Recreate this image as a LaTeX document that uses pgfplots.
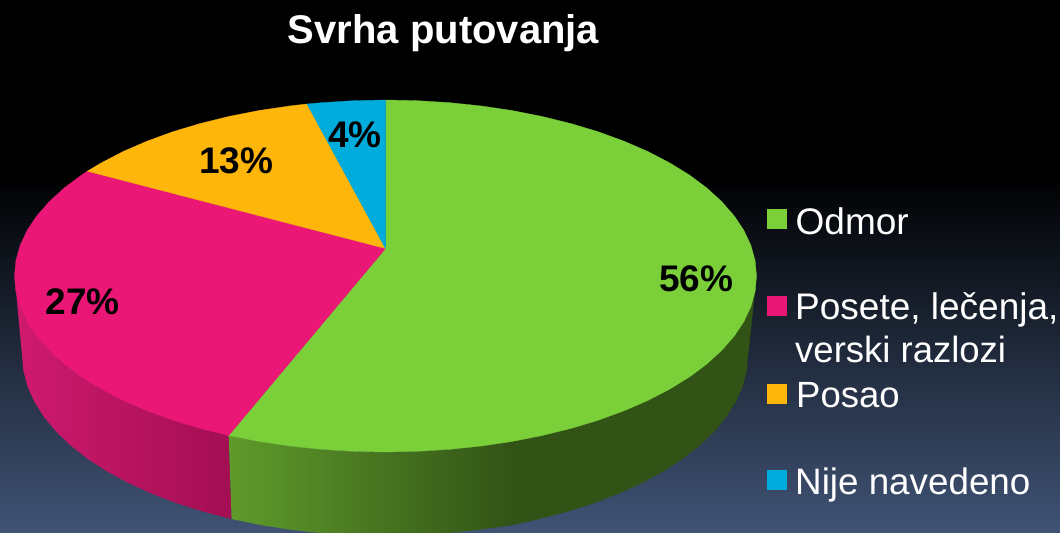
\documentclass[border=0pt]{standalone}
\usepackage{fontspec}
\setmainfont{Liberation Sans}
\usepackage{pgfplots}
\pgfplotsset{compat=1.18}
\definecolor{odmor}{HTML}{7BD03A}
\definecolor{posete}{HTML}{EA1777}
\definecolor{posao}{HTML}{FEB60A}
\definecolor{nije}{HTML}{00ACDC}
\definecolor{bgbottom}{HTML}{405375}
\definecolor{bgtop}{HTML}{020305}
\definecolor{sidegreenL}{HTML}{5F9B2B}
\definecolor{sidegreenR}{HTML}{325316}
\definecolor{sidepinkL}{HTML}{CF1A6E}
\definecolor{sidepinkR}{HTML}{A30E52}
\newcommand{\lab}[1]{\fontsize{37bp}{44bp}\selectfont\bfseries #1}
\newcommand{\leg}[2][36.5bp]{\fontsize{#1}{44bp}\selectfont #2}
\begin{document}
\begin{tikzpicture}
\begin{axis}[
    hide axis,
    scale only axis,
    x=1bp, y=1bp,
    y dir=reverse,
    xmin=0, xmax=1060,
    ymin=0, ymax=533,
]
% slide background
\fill[black] (0,0) rectangle (1060,533);
\fill[top color=bgtop, bottom color=bgbottom, draw=none] (0,186) rectangle (1060,533);

% side wall, pink
\addplot[draw=none, left color=sidepinkL, right color=sidepinkR] coordinates {
 (14.5,276) (15.9,291.3) (20.1,306.6) (27.1,321.6) (36.9,336.2) (49.3,350.4) (64.2,364)
 (81.6,377) (101.3,389.1) (123.2,400.5) (147,410.8) (172.7,420.2) (200,428.4) (228.7,435.5)
 (231.6,519) (203.5,511.7) (176.8,503.3) (151.7,493.6) (128.3,483) (106.9,471.3) (87.6,458.8)
 (70.6,445.5) (56,431.5) (43.9,416.9) (34.4,401.8) (27.5,386.4) (23.4,370.8) (22,355)
};
% side wall, green: shaded part, then the flat dark part
\addplot[draw=none, left color=sidegreenL, right color=sidegreenR] coordinates {
 (228.7,435.5) (258.6,441.4) (289.5,446) (321.1,449.3) (353.1,451.3) (385.5,452) (417.9,451.3)
 (449.9,449.3) (481.5,446) (512.4,441.4)
 (512.4,525.1) (478.9,529.8) (448,533.2) (416.7,535.3) (385,536) (353.3,535.3) (322,533.2)
 (291.1,529.8) (260.9,525.1) (231.6,519)
};
\addplot[fill=sidegreenR, draw=sidegreenR, line width=0.3bp] coordinates {
 (512,441.4) (542.3,435.5) (571,428.4) (598.3,420.2) (624,410.8) (647.8,400.5) (669.7,389.1)
 (689.4,377) (706.8,364) (721.7,350.4) (734.1,336.2) (743.9,321.6) (750.9,306.6) (755.1,291.3)
 (756.5,276)
 (748,355) (746.6,370.8) (742.5,386.4) (735.6,401.8) (726.1,416.9) (714,431.5) (699.4,445.5)
 (682.4,458.8) (663.1,471.3) (641.7,483) (618.3,493.6) (593.2,503.3) (566.5,511.7) (538.4,519)
 (512,525.1)
};

% top face
\addplot[fill=odmor, draw=odmor, line width=0.3bp] coordinates {
 (385.5,248.5) (385.5,100) (417.9,100.7) (449.9,102.7) (481.5,106) (512.4,110.6) (542.3,116.5)
 (571,123.6) (598.3,131.8) (624,141.2) (647.8,151.5) (669.7,162.9) (689.4,175) (706.8,188)
 (721.7,201.6) (734.1,215.8) (743.9,230.4) (750.9,245.4) (755.1,260.7) (756.5,276) (755.1,291.3)
 (750.9,306.6) (743.9,321.6) (734.1,336.2) (721.7,350.4) (706.8,364) (689.4,377) (669.7,389.1)
 (647.8,400.5) (624,410.8) (598.3,420.2) (571,428.4) (542.3,435.5) (512.4,441.4) (481.5,446)
 (449.9,449.3) (417.9,451.3) (385.5,452) (353.1,451.3) (321.1,449.3) (289.5,446) (258.6,441.4)
 (228.7,435.5) (385.5,248.5)
};
\addplot[fill=posete, draw=posete, line width=0.3bp] coordinates {
 (385.5,248.5) (228.7,435.5) (200,428.4) (172.7,420.2) (147,410.8) (123.2,400.5) (101.3,389.1)
 (81.6,377) (64.2,364) (49.3,350.4) (36.9,336.2) (27.1,321.6) (20.1,306.6) (15.9,291.3)
 (14.5,276) (15.9,260.7) (20.1,245.4) (27.1,230.4) (36.9,215.8) (49.3,201.6) (64.2,188)
 (81.6,175) (87.3,171.2) (385.5,248.5)
};
\addplot[fill=posao, draw=posao, line width=0.3bp] coordinates {
 (385.5,248.5) (87.3,171.2) (101.3,162.9) (123.2,151.5) (147,141.2) (172.7,131.8) (200,123.6)
 (228.7,116.5) (258.6,110.6) (289.5,106) (307,104) (385.5,248.5)
};
\addplot[fill=nije, draw=nije, line width=0.3bp] coordinates {
 (385.5,248.5) (307,104) (321.1,102.7) (353.1,100.7) (385.5,100) (385.5,248.5)
};

% legend squares
\addplot[only marks, mark=square*, mark size=9.5bp, mark options={draw=odmor, line width=0pt, fill=odmor}] coordinates {(776.5,219.5)};
\addplot[only marks, mark=square*, mark size=9.5bp, mark options={draw=posete, line width=0pt, fill=posete}] coordinates {(776.5,306.5)};
\addplot[only marks, mark=square*, mark size=9.5bp, mark options={draw=posao, line width=0pt, fill=posao}] coordinates {(776.5,393.5)};
\addplot[only marks, mark=square*, mark size=9.5bp, mark options={draw=nije, line width=0pt, fill=nije}] coordinates {(776.5,479.5)};

% texts
\node[anchor=base, inner sep=0, white] at (443.5,44) {\fontsize{40bp}{48bp}\selectfont\bfseries Svrha putovanja};
\node[anchor=base west, inner sep=0, black] at (659,291.5) {\lab{56\%}};
\node[anchor=base west, inner sep=0, black] at (45.5,314.5) {\lab{27\%}};
\node[anchor=base west, inner sep=0, black] at (199,174) {\lab{13\%}};
\node[anchor=base west, inner sep=0, black] at (328,148) {\lab{4\%}};
\node[anchor=base west, inner sep=0, white] at (795.5,234.5) {\leg[37bp]{Odmor}};
\node[anchor=base west, inner sep=0, white] at (795,320) {\leg[37bp]{Posete, lečenja,}};
\node[anchor=base west, inner sep=0, white] at (795,363) {\leg{verski razlozi}};
\node[anchor=base west, inner sep=0, white] at (796,407) {\leg{Posao}};
\node[anchor=base west, inner sep=0, white] at (795,494) {\leg[36.8bp]{Nije navedeno}};
\end{axis}
\end{tikzpicture}
\end{document}
